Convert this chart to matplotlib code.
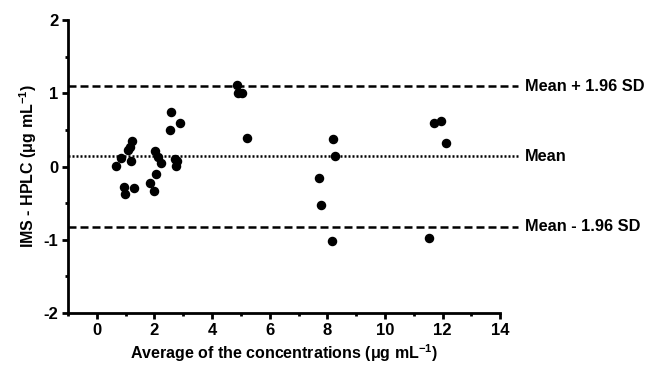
import numpy as np
import matplotlib.pyplot as plt

plt.rcParams['font.family'] = ['Liberation Sans', 'DejaVu Sans']
plt.rcParams['font.weight'] = 'bold'

# Bland-Altman data: average of the two methods vs. difference
avg_conc = [0.66, 0.84, 1.08, 1.14, 1.23, 1.17, 0.94, 0.98, 1.28,
            2.02, 2.13, 2.21, 2.06, 1.86, 2.00, 2.56, 2.55, 2.90,
            2.72, 2.79, 2.74, 4.87, 4.91, 5.02, 5.22,
            7.70, 7.79, 8.15, 8.20, 8.26,
            11.69, 11.94, 12.10, 11.54]
diff_conc = [0.01, 0.12, 0.23, 0.26, 0.35, 0.07, -0.28, -0.38, -0.30,
             0.21, 0.13, 0.05, -0.10, -0.23, -0.33, 0.74, 0.50, 0.60,
             0.10, 0.08, 0.01, 1.11, 1.00, 1.00, 0.39,
             -0.16, -0.52, -1.02, 0.38, 0.14,
             0.59, 0.62, 0.32, -0.97]

mean_diff = 0.14
upper_loa = 1.10
lower_loa = -0.82

fig = plt.figure(figsize=(6.48, 3.66), dpi=100)
ax = fig.add_axes([0.105, 0.145, 0.667, 0.80])

ax.scatter(avg_conc, diff_conc, s=34, color='black', zorder=3, clip_on=False)

line_x = [-1, 14.6]
ax.plot(line_x, [upper_loa, upper_loa], color='black', lw=1.8,
        dashes=(3.2, 1.6), clip_on=False)
ax.plot(line_x, [lower_loa, lower_loa], color='black', lw=1.8,
        dashes=(3.2, 1.6), clip_on=False)
ax.plot(line_x, [mean_diff, mean_diff], color='black', lw=1.8,
        dashes=(0.8, 0.8), clip_on=False)

ax.text(14.85, upper_loa, 'Mean + 1.96 SD', va='center', ha='left',
        fontsize=11.8, fontweight='bold')
ax.text(14.85, mean_diff, 'Mean', va='center', ha='left',
        fontsize=11.8, fontweight='bold')
ax.text(14.85, lower_loa, 'Mean - 1.96 SD', va='center', ha='left',
        fontsize=11.8, fontweight='bold')

ax.set_xlim(-1, 14)
ax.set_ylim(-2, 2)
ax.set_xticks(np.arange(0, 15, 2))
ax.set_xticks(np.arange(-1, 15, 1), minor=True)
ax.set_yticks(np.arange(-2, 3, 1))
ax.set_yticks(np.arange(-2, 2.1, 0.5), minor=True)
ax.set_yticklabels(['-2', '-1', '0', '1', '2'])

for side in ['top', 'right']:
    ax.spines[side].set_visible(False)
for side in ['left', 'bottom']:
    ax.spines[side].set_linewidth(2.0)

ax.tick_params(which='major', length=4, width=2.0, labelsize=12, pad=3)
ax.tick_params(which='minor', length=2.5, width=2.0)

ax.set_xlabel(r'Average of the concentrations ($\mathregular{\mu}$g mL$^{\mathregular{-1}}$)',
              fontsize=11.5, fontweight='bold', labelpad=3)
ax.set_ylabel(r'IMS - HPLC ($\mathregular{\mu}$g mL$^{\mathregular{-1}}$)',
              fontsize=11.5, fontweight='bold', labelpad=3)

fig.savefig('out.png', dpi=100)
